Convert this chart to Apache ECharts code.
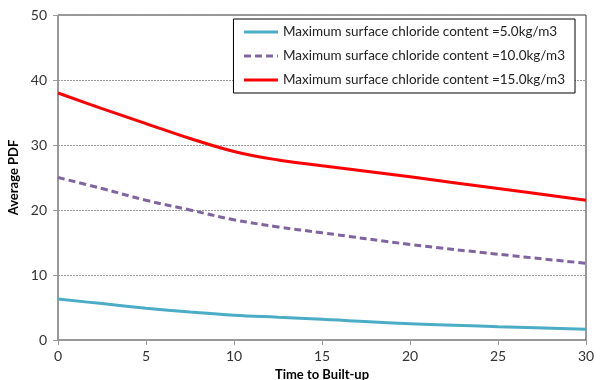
<!DOCTYPE html>
<html><head><meta charset="utf-8">
<script src="https://cdn.jsdelivr.net/npm/echarts@6/dist/echarts.min.js"></script>
<style>html,body{margin:0;padding:0;background:#fff}#c{width:600px;height:380px}</style>
</head><body><div id="c"></div>
<script>
const years = [0, 2.5, 5, 7.5, 10, 12.5, 15, 20, 25, 30];
const s5 = [6.3, 5.6, 4.9, 4.3, 3.8, 3.5, 3.2, 2.5, 2.05, 1.65];
const s10 = [25.0, 23.3, 21.5, 20.0, 18.5, 17.4, 16.5, 14.7, 13.2, 11.8];
const s15 = [38.0, 35.6, 33.3, 31.0, 29.0, 27.7, 26.8, 25.1, 23.3, 21.5];
const names = [
  'Maximum surface chloride content =5.0kg/m3',
  'Maximum surface chloride content =10.0kg/m3',
  'Maximum surface chloride content =15.0kg/m3'
];
const colors = ['#4bacc6', '#8064a2', '#ff0000'];
const pair = arr => years.map((x, i) => [x, arr[i]]);
const font = 'Lato, Open Sans, sans-serif';
const chart = echarts.init(document.getElementById('c'));
chart.setOption({
  animation: false,
  textStyle: { fontFamily: font },
  grid: { left: 58, right: 14, top: 15, bottom: 40, show: true, borderColor: '#333', borderWidth: 1, outerBoundsMode: 'none', containLabel: false },
  legend: {
    show: true,
    orient: 'vertical', right: 25, top: 19,
    itemWidth: 34, itemHeight: 12, itemGap: 10,
    borderColor: '#000', borderWidth: 1, padding: [6, 10, 6, 9],
    backgroundColor: '#fff',
    itemStyle: { opacity: 0 },
    lineStyle: { width: 3 },
    textStyle: { fontSize: 13.5, color: '#222', fontFamily: font },
    data: names
  },
  xAxis: {
    type: 'value', min: 0, max: 30, interval: 5,
    name: 'Time to Built-up', nameLocation: 'middle', nameGap: 25,
    nameTextStyle: { fontWeight: 'bold', fontSize: 13, color: '#000' },
    axisLine: { lineStyle: { color: '#999' } },
    axisTick: { show: true, length: 5, lineStyle: { color: '#999' } },
    axisLabel: { fontSize: 14, color: '#333', margin: 9 },
    splitLine: { show: false }
  },
  yAxis: {
    type: 'value', min: 0, max: 50, interval: 10,
    name: 'Average PDF', nameLocation: 'middle', nameGap: 33,
    nameTextStyle: { fontWeight: 'bold', fontSize: 13, color: '#000' },
    axisLine: { show: true, lineStyle: { color: '#999' } },
    axisTick: { show: true, length: 5, lineStyle: { color: '#999' } },
    axisLabel: { fontSize: 14, color: '#333', margin: 11 },
    splitLine: { show: true, lineStyle: { color: '#999', type: [2, 1], width: 1 } }
  },
  series: [
    { name: names[0], type: 'line', smooth: 0.4, symbol: 'none', data: pair(s5), lineStyle: { color: colors[0], width: 3 }, itemStyle: { color: colors[0] } },
    { name: names[1], type: 'line', smooth: 0.4, symbol: 'none', data: pair(s10), lineStyle: { color: colors[1], width: 3, type: [7, 4] }, itemStyle: { color: colors[1] } },
    { name: names[2], type: 'line', smooth: 0.4, symbol: 'none', data: pair(s15), lineStyle: { color: colors[2], width: 3 }, itemStyle: { color: colors[2] } }
  ]
});
</script></body></html>
